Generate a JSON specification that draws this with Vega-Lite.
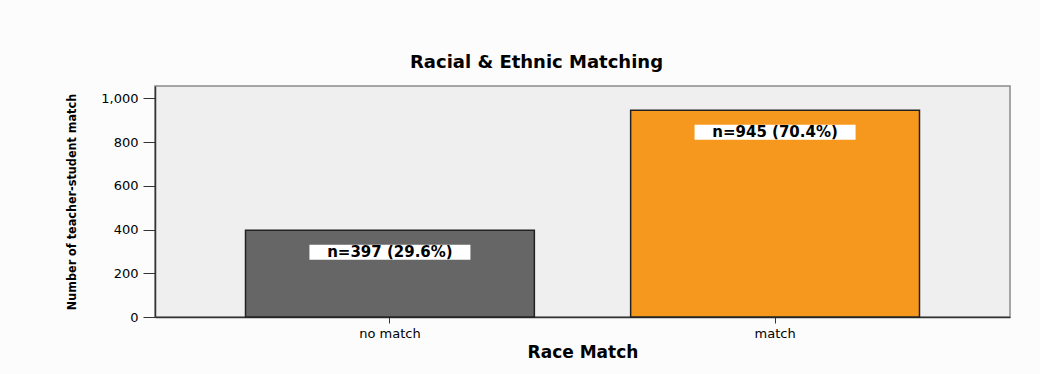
{
  "$schema": "https://vega.github.io/schema/vega-lite/v6.json",
  "width": 855,
  "height": 231,
  "autosize": {"type": "none"},
  "padding": {"left": 155, "top": 86, "right": 30, "bottom": 57},
  "background": "#fcfcfc",
  "title": {
    "text": "Racial & Ethnic Matching",
    "font": "DejaVu Sans",
    "fontSize": 18,
    "fontWeight": "bold",
    "color": "#000000",
    "anchor": "middle",
    "dx": -46,
    "offset": 14
  },
  "data": {
    "values": [
      {"match": "no match", "count": 397, "label": "n=397 (29.6%)"},
      {"match": "match", "count": 945, "label": "n=945 (70.4%)"}
    ]
  },
  "encoding": {
    "x": {
      "field": "match",
      "type": "nominal",
      "sort": ["no match", "match"],
      "scale": {"paddingInner": 0.25, "paddingOuter": 0.235},
      "title": "Race Match",
      "axis": {
        "labelAngle": 0,
        "labelFont": "DejaVu Sans",
        "labelFontSize": 13,
        "labelColor": "#000000",
        "labelPadding": 4,
        "tickSize": 6,
        "tickColor": "#333333",
        "domainColor": "#333333",
        "domainWidth": 1.5,
        "titleFont": "DejaVu Sans",
        "titleFontSize": 17,
        "titleFontWeight": "bold",
        "titleColor": "#000000",
        "titlePadding": 4
      }
    }
  },
  "layer": [
    {
      "mark": {"type": "bar", "stroke": "#222222", "strokeWidth": 1.5},
      "encoding": {
        "y": {
          "field": "count",
          "type": "quantitative",
          "scale": {"domain": [0, 1056], "nice": false},
          "title": "Number of teacher-student match",
          "axis": {
            "values": [0, 200, 400, 600, 800, 1000],
            "format": ",d",
            "grid": false,
            "labelFont": "DejaVu Sans",
            "labelFontSize": 13,
            "labelColor": "#000000",
            "labelPadding": 5,
            "tickSize": 12,
            "tickColor": "#333333",
            "domainColor": "#333333",
            "domainWidth": 1.5,
            "titleFont": "DejaVu Sans Condensed, Liberation Sans",
            "titleFontSize": 12.5,
            "titleFontWeight": "bold",
            "titleColor": "#000000",
            "titlePadding": 22
          }
        },
        "color": {
          "field": "match",
          "type": "nominal",
          "scale": {"domain": ["no match", "match"], "range": ["#666666", "#F7981E"]},
          "legend": null
        }
      }
    },
    {
      "mark": {
        "type": "point",
        "shape": "M-1,-0.093L1,-0.093L1,0.093L-1,0.093Z",
        "size": 25921,
        "filled": true,
        "fill": "#ffffff",
        "strokeWidth": 0,
        "opacity": 1,
        "yOffset": 22
      },
      "encoding": {
        "y": {"field": "count", "type": "quantitative"}
      }
    },
    {
      "mark": {
        "type": "text",
        "font": "DejaVu Sans",
        "fontWeight": "bold",
        "fontSize": 15,
        "color": "#000000",
        "baseline": "middle",
        "yOffset": 22
      },
      "encoding": {
        "y": {"field": "count", "type": "quantitative"},
        "text": {"field": "label"}
      }
    }
  ],
  "config": {
    "view": {"fill": "#efefef", "stroke": "#8a8a8a", "strokeWidth": 1.5}
  }
}
